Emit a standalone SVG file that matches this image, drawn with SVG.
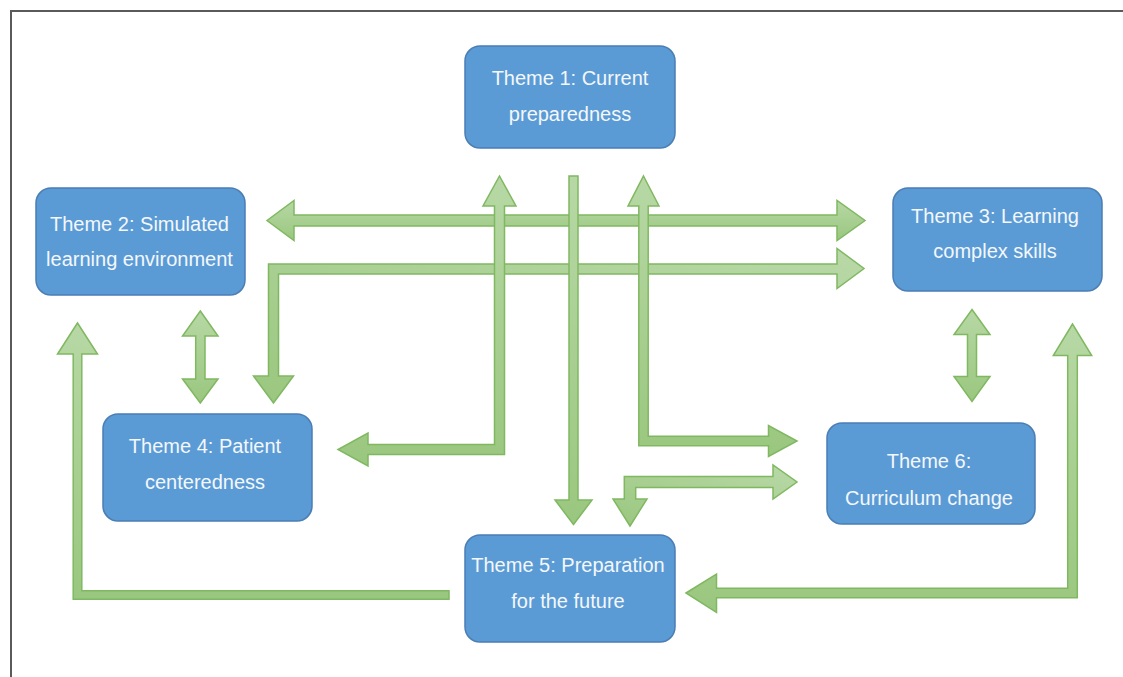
<svg xmlns="http://www.w3.org/2000/svg" width="1123" height="677" viewBox="0 0 1123 677">
  <style>
    .node rect { fill: #5B9BD5; stroke: #4A7EB5; stroke-width: 1.5; }
    .node text { font-family: "Liberation Sans", Arial, sans-serif; font-size: 20px; fill: #F4F7FB; text-anchor: middle; }
    .arrow { fill: url(#greenV); stroke: #80B862; stroke-width: 1.5; stroke-linejoin: miter; }
    .arrow.diag { fill: url(#greenD); }
    .frame { stroke: #5A5A5A; stroke-width: 2; fill: none; }
  </style>
  <defs>
    <linearGradient id="greenV" x1="0" y1="0" x2="0" y2="1">
      <stop offset="0" stop-color="#B7D8A5"/>
      <stop offset="1" stop-color="#9AC77F"/>
    </linearGradient>
    <linearGradient id="greenD" x1="0" y1="1" x2="1" y2="0">
      <stop offset="0" stop-color="#9AC77F"/>
      <stop offset="1" stop-color="#B9D9A8"/>
    </linearGradient>
  </defs>

  <rect width="1123" height="677" fill="#FFFFFF"/>
  <!-- page frame -->
  <path class="frame" d="M11,677 V11 H1123"/>

  <!-- connectors: block arrows -->
  <g id="connectors">
    <!-- Theme 2 <-> Theme 3 -->
    <polygon class="arrow" points="267,220.5 294,200.5 294,215 837,215 837,200.5 865,220.5 837,240.5 837,226 294,226 294,240.5"/>
    <!-- Theme 4 <-> Theme 3 (elbow) -->
    <polygon class="arrow diag" points="273.5,403 253.5,376 268.5,376 268.5,264 837,264 837,248.5 864,268.5 837,288.5 837,274 278.5,274 278.5,376 293.5,376"/>
    <!-- Theme 4 <-> Theme 1 (elbow) -->
    <polygon class="arrow" points="499.5,176 516,206 504.5,206 504.5,454.5 368,454.5 368,466 338,449.5 368,433 368,444.5 494.5,444.5 494.5,206 483,206"/>
    <!-- Theme 1 -> Theme 5 -->
    <polygon class="arrow" points="569,176 578,176 578,500 592,500 573.5,524.5 555,500 569,500"/>
    <!-- Theme 1 <-> Theme 6 (elbow) -->
    <polygon class="arrow" points="643.5,176 659,206 648.2,206 648.2,436.3 768.5,436.3 768.5,425.5 797,441 768.5,456.5 768.5,445.7 638.8,445.7 638.8,206 628,206"/>
    <!-- Theme 6 <-> Theme 5 (elbow) -->
    <polygon class="arrow diag" points="630,526 613,499 624.3,499 624.3,476.5 773,476.5 773,465 797,482 773,499 773,487.5 635.7,487.5 635.7,499 647,499"/>
    <!-- Theme 5 -> Theme 2 (elbow) -->
    <polygon class="arrow" points="449,590.7 449,599.3 73.2,599.3 73.2,354 57.5,354 77.5,323 97.5,354 81.8,354 81.8,590.7"/>
    <!-- Theme 5 <-> Theme 3 (elbow) -->
    <polygon class="arrow" points="686,593 716.5,574 716.5,588.3 1067.7,588.3 1067.7,355.5 1053.3,355.5 1072.5,324 1091.7,355.5 1077.3,355.5 1077.3,597.7 716.5,597.7 716.5,612.5"/>
    <!-- Theme 2 <-> Theme 4 -->
    <polygon class="arrow" points="200.3,311 218,336 205,336 205,379 218,379 200.3,403 182.5,379 195.7,379 195.7,336 182.5,336"/>
    <!-- Theme 3 <-> Theme 6 -->
    <polygon class="arrow" points="972,309.5 990,334.5 976.5,334.5 976.5,376.5 990,376.5 972,401.5 954,376.5 967.5,376.5 967.5,334.5 954,334.5"/>
  </g>

  <g id="theme1" class="node">
    <rect x="465" y="46" width="210" height="102" rx="15"/>
    <text x="570" y="85">Theme 1: Current</text>
    <text x="570" y="121">preparedness</text>
  </g>
  <g id="theme2" class="node">
    <rect x="36" y="188" width="209" height="107" rx="15"/>
    <text x="139.5" y="231">Theme 2: Simulated</text>
    <text x="139.5" y="266">learning environment</text>
  </g>
  <g id="theme3" class="node">
    <rect x="893" y="188" width="209" height="103" rx="15"/>
    <text x="995" y="223">Theme 3: Learning</text>
    <text x="995" y="258">complex skills</text>
  </g>
  <g id="theme4" class="node">
    <rect x="103" y="414" width="209" height="107" rx="15"/>
    <text x="205" y="452.5">Theme 4: Patient</text>
    <text x="205" y="489">centeredness</text>
  </g>
  <g id="theme5" class="node">
    <rect x="465" y="535" width="210" height="107" rx="15"/>
    <text x="568" y="571.5">Theme 5: Preparation</text>
    <text x="568" y="608">for the future</text>
  </g>
  <g id="theme6" class="node">
    <rect x="827" y="423" width="208" height="101" rx="15"/>
    <text x="929" y="467.5">Theme 6:</text>
    <text x="929" y="505">Curriculum change</text>
  </g>
</svg>
